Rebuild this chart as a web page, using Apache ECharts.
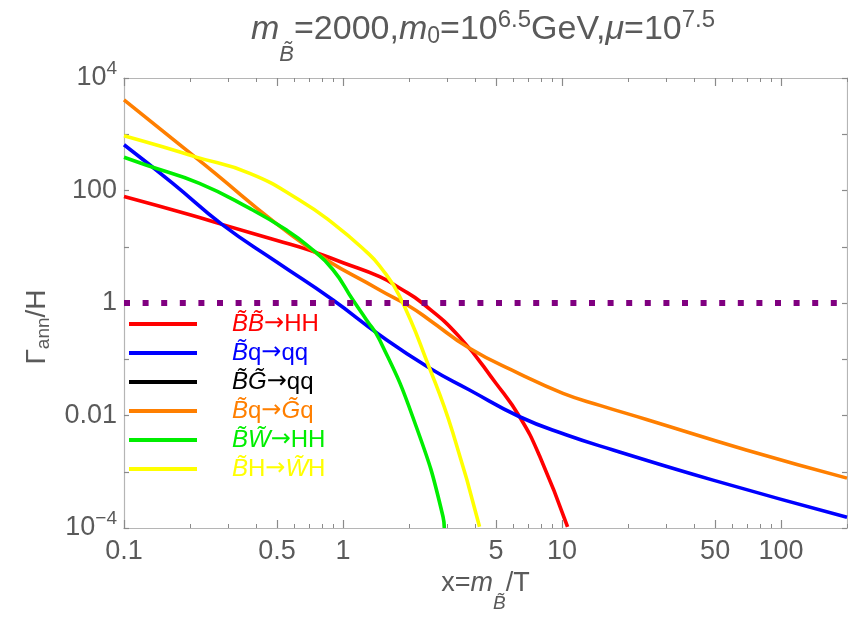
<!DOCTYPE html>
<html><head><meta charset="utf-8">
<script src="https://cdn.jsdelivr.net/npm/echarts@6/dist/echarts.min.js"></script>
<style>html,body{margin:0;padding:0;background:#fff}#c{width:848px;height:619px}</style>
</head><body><div id="c"></div>
<script>
// ---- data (x = m_B/T, y = Gamma_ann/H) ----
const redX    = [0.1, 0.2, 0.28, 0.5, 0.7, 1.0, 1.47, 1.81, 2.3, 3.4, 5.0, 6.4, 7.9, 10.6];
const redY    = [78, 37, 25, 12.9, 8.7, 5.2, 2.94, 1.85, 1.0, 0.25, 0.037, 0.0095, 0.0019, 1.05e-4];
const blueX   = [0.1, 0.167, 0.28, 0.5, 0.9, 1.47, 2.48, 3.78, 6.4, 10.5, 17.1, 48.9, 200];
const blueY   = [650, 134, 25, 5.3, 1.13, 0.27, 0.070, 0.0284, 0.0095, 0.0045, 0.00244, 7.1e-4, 1.55e-4];
const blackX  = [];
const blackY  = [];
const orangeX = [0.1, 0.21, 0.7, 1.47, 2.0, 2.48, 3.78, 6.4, 10.1, 15.0, 24.3, 69.3, 200];
const orangeY = [4070, 400, 9.5, 1.70, 0.885, 0.50, 0.157, 0.055, 0.0248, 0.0150, 0.0085, 0.00244, 7.7e-4];
const greenX  = [0.1, 0.126, 0.221, 0.375, 0.55, 0.70, 0.90, 1.11, 1.28, 1.47, 2.08, 2.86, 2.90];
const greenY  = [390, 284, 134, 48, 20, 10, 3.9, 1.13, 0.5, 0.22, 0.0095, 1.6e-4, 1.0e-4];
const yellowX = [0.1, 0.15, 0.21, 0.375, 0.632, 0.90, 1.28, 1.47, 1.81, 2.48, 3.17, 4.20];
const yellowY = [944, 600, 400, 202, 68, 26, 8.1, 4.55, 1.33, 0.07, 0.005, 1.05e-4];
const thresholdX = [0.1, 200];
const thresholdY = [1, 1];

const seriesNames  = ['B\u0303B\u0303\u2192HH', 'B\u0303q\u2192qq', 'B\u0303G\u0303\u2192qq', 'B\u0303q\u2192G\u0303q', 'B\u0303W\u0303\u2192HH', 'B\u0303H\u2192W\u0303H'];
const seriesColors = ['#ff0000', '#0000ff', '#000000', '#ff7f00', '#00ee00', '#ffff00'];

// ---- axis ticks ----
const xMin = 0.1, xMax = 200;
const xMajorTicks  = [0.1, 0.5, 1, 5, 10, 50, 100];
const xMajorLabels = ['0.1', '0.5', '1', '5', '10', '50', '100'];
const xMinorTicks  = [0.2, 0.3, 0.4, 0.6, 0.7, 0.8, 0.9, 2, 3, 4, 6, 7, 8, 9, 20, 30, 40, 60, 70, 80, 90, 200];
const yMin = 1e-4, yMax = 1e4;
const yLabelValues = [1e-4, 0.01, 1, 100, 1e4];
const yLabelTexts  = ['10{sup|\u22124}', '0.01', '1', '100', '10{sup|4}'];

const L = Math.log10;
const FONT = 'Liberation Sans, Arial, DejaVu Sans, sans-serif';
const GREY = '#5a5a5a';
const AXC = '#b5b5b5';
const TICKC = '#8a8a8a';

function toData(xs, ys) { return xs.map((x, i) => [L(x), L(ys[i])]); }
function findLabel(v, vals, texts) {
  for (let i = 0; i < vals.length; i++) if (Math.abs(L(vals[i]) - v) < 1e-6) return texts[i];
  return '';
}

const chart = echarts.init(document.getElementById('c'), null, {renderer: 'canvas'});

const xBase = {
  type: 'value', min: L(xMin), max: L(xMax), gridIndex: 0,
  splitLine: {show: false},
  axisLine: {show: true, onZero: false, lineStyle: {color: AXC, width: 1.2}}
};
const yBase = {
  type: 'value', min: L(yMin), max: L(yMax), interval: 1, gridIndex: 0,
  splitLine: {show: false},
  axisLine: {show: true, onZero: false, lineStyle: {color: AXC, width: 1.2}}
};

const richName = {
  i:   {fontSize: 27, fontStyle: 'italic', color: GREY, fontFamily: FONT},
  sb:  {fontSize: 19, fontStyle: 'italic', color: GREY, fontFamily: FONT, padding: [40, 0, 0, 0]},
  sub: {fontSize: 19, color: GREY, fontFamily: FONT, padding: [14, 0, 0, 0]}
};

const series = [];
const allX = [redX, blueX, blackX, orangeX, greenX, yellowX];
const allY = [redY, blueY, blackY, orangeY, greenY, yellowY];
for (let k = 0; k < seriesNames.length; k++) {
  series.push({
    name: seriesNames[k], type: 'line', xAxisIndex: 0, yAxisIndex: 0,
    data: toData(allX[k], allY[k]),
    showSymbol: false, symbol: 'none', smooth: 0.5, clip: true,
    color: seriesColors[k],
    lineStyle: {color: seriesColors[k], width: 3.6},
    z: 3
  });
}
series.push({
  name: 'threshold', type: 'line', xAxisIndex: 0, yAxisIndex: 0,
  data: toData(thresholdX, thresholdY), symbol: 'none', clip: true,
  lineStyle: {color: '#800080', width: 6, type: [6, 12.6], cap: 'butt'},
  z: 4
});

const legendData = seriesNames.map((n, k) => ({
  name: n,
  textStyle: {color: seriesColors[k], rich: {
    i: {fontStyle: 'italic', color: seriesColors[k], fontSize: 24, fontFamily: FONT},
    a: {color: seriesColors[k], fontSize: 24, fontFamily: 'DejaVu Sans'}
  }}
}));

chart.setOption({
  animation: false,
  backgroundColor: '#fff',
  title: {
    text: '{i|m}{sb|B\u0303}=2000,{i|m}{s0|0}=10{sup|6.5}GeV,{i|\u03bc}=10{sup|7.5}',
    left: 251, top: -6, padding: 0,
    textStyle: {
      fontSize: 34, fontWeight: 'normal', color: GREY, fontFamily: FONT,
      rich: {
        i:   {fontSize: 34, fontStyle: 'italic', color: GREY, fontFamily: FONT},
        sb:  {fontSize: 22, fontStyle: 'italic', color: GREY, fontFamily: FONT, padding: [50, 0, 0, 0]},
        s0:  {fontSize: 23, color: GREY, fontFamily: FONT, padding: [14, 0, 0, 0]},
        sup: {fontSize: 24, color: GREY, fontFamily: FONT, padding: [0, 0, 20, 0]}
      }
    }
  },
  grid: {left: 124, top: 78, right: 1, bottom: 91, containLabel: false},
  legend: {
    orient: 'vertical', left: 124, top: 306, itemWidth: 68, itemHeight: 4, icon: 'rect',
    itemGap: 3, selectedMode: false,
    data: legendData,
    formatter: name => name.replace(/([A-Z]\u0303)/g, '{i|$1}').replace(/\u2192/g, '{a|\u2192}'),
    textStyle: {fontSize: 24, lineHeight: 26, fontFamily: FONT, padding: [0, 0, 0, 30]}
  },
  xAxis: [
    Object.assign({}, xBase, {
      position: 'bottom',
      axisTick: {show: true, inside: true, length: 8, customValues: xMajorTicks.map(L), lineStyle: {color: TICKC, width: 1.2}},
      axisLabel: {show: true, customValues: xMajorTicks.map(L), fontSize: 27, color: GREY, fontFamily: FONT, margin: 10,
        formatter: v => findLabel(v, xMajorTicks, xMajorLabels)},
      name: 'x={i|m}{sb|B\u0303}/T', nameLocation: 'middle', nameGap: 22,
      nameTextStyle: {fontSize: 27, color: GREY, fontFamily: FONT, rich: richName}
    }),
    Object.assign({}, xBase, {
      position: 'bottom',
      axisTick: {show: true, inside: true, length: 4, customValues: xMinorTicks.map(L), lineStyle: {color: TICKC, width: 1}},
      axisLabel: {show: false}
    }),
    Object.assign({}, xBase, {
      position: 'top',
      axisTick: {show: true, inside: true, length: 8, customValues: xMajorTicks.map(L), lineStyle: {color: TICKC, width: 1.2}},
      axisLabel: {show: false}
    }),
    Object.assign({}, xBase, {
      position: 'top',
      axisTick: {show: true, inside: true, length: 4, customValues: xMinorTicks.map(L), lineStyle: {color: TICKC, width: 1}},
      axisLabel: {show: false}
    })
  ],
  yAxis: [
    Object.assign({}, yBase, {
      position: 'left',
      axisTick: {show: true, inside: true, length: 5, lineStyle: {color: TICKC, width: 1.2}},
      axisLabel: {show: true, fontSize: 27, color: GREY, fontFamily: FONT, margin: 7,
        formatter: v => findLabel(v, yLabelValues, yLabelTexts),
        rich: {sup: {fontSize: 19, color: GREY, fontFamily: FONT, padding: [0, 0, 18, 0]}}},
      name: '\u0393{sub|ann}/H', nameLocation: 'middle', nameGap: 70, nameRotate: 90,
      nameTextStyle: {fontSize: 28, color: GREY, fontFamily: FONT, rich: richName, padding: [0, 48, 0, 0]}
    }),
    Object.assign({}, yBase, {
      position: 'right',
      axisTick: {show: true, inside: true, length: 5, lineStyle: {color: TICKC, width: 1.2}},
      axisLabel: {show: false}
    })
  ],
  series: series
});
</script>
</body></html>
